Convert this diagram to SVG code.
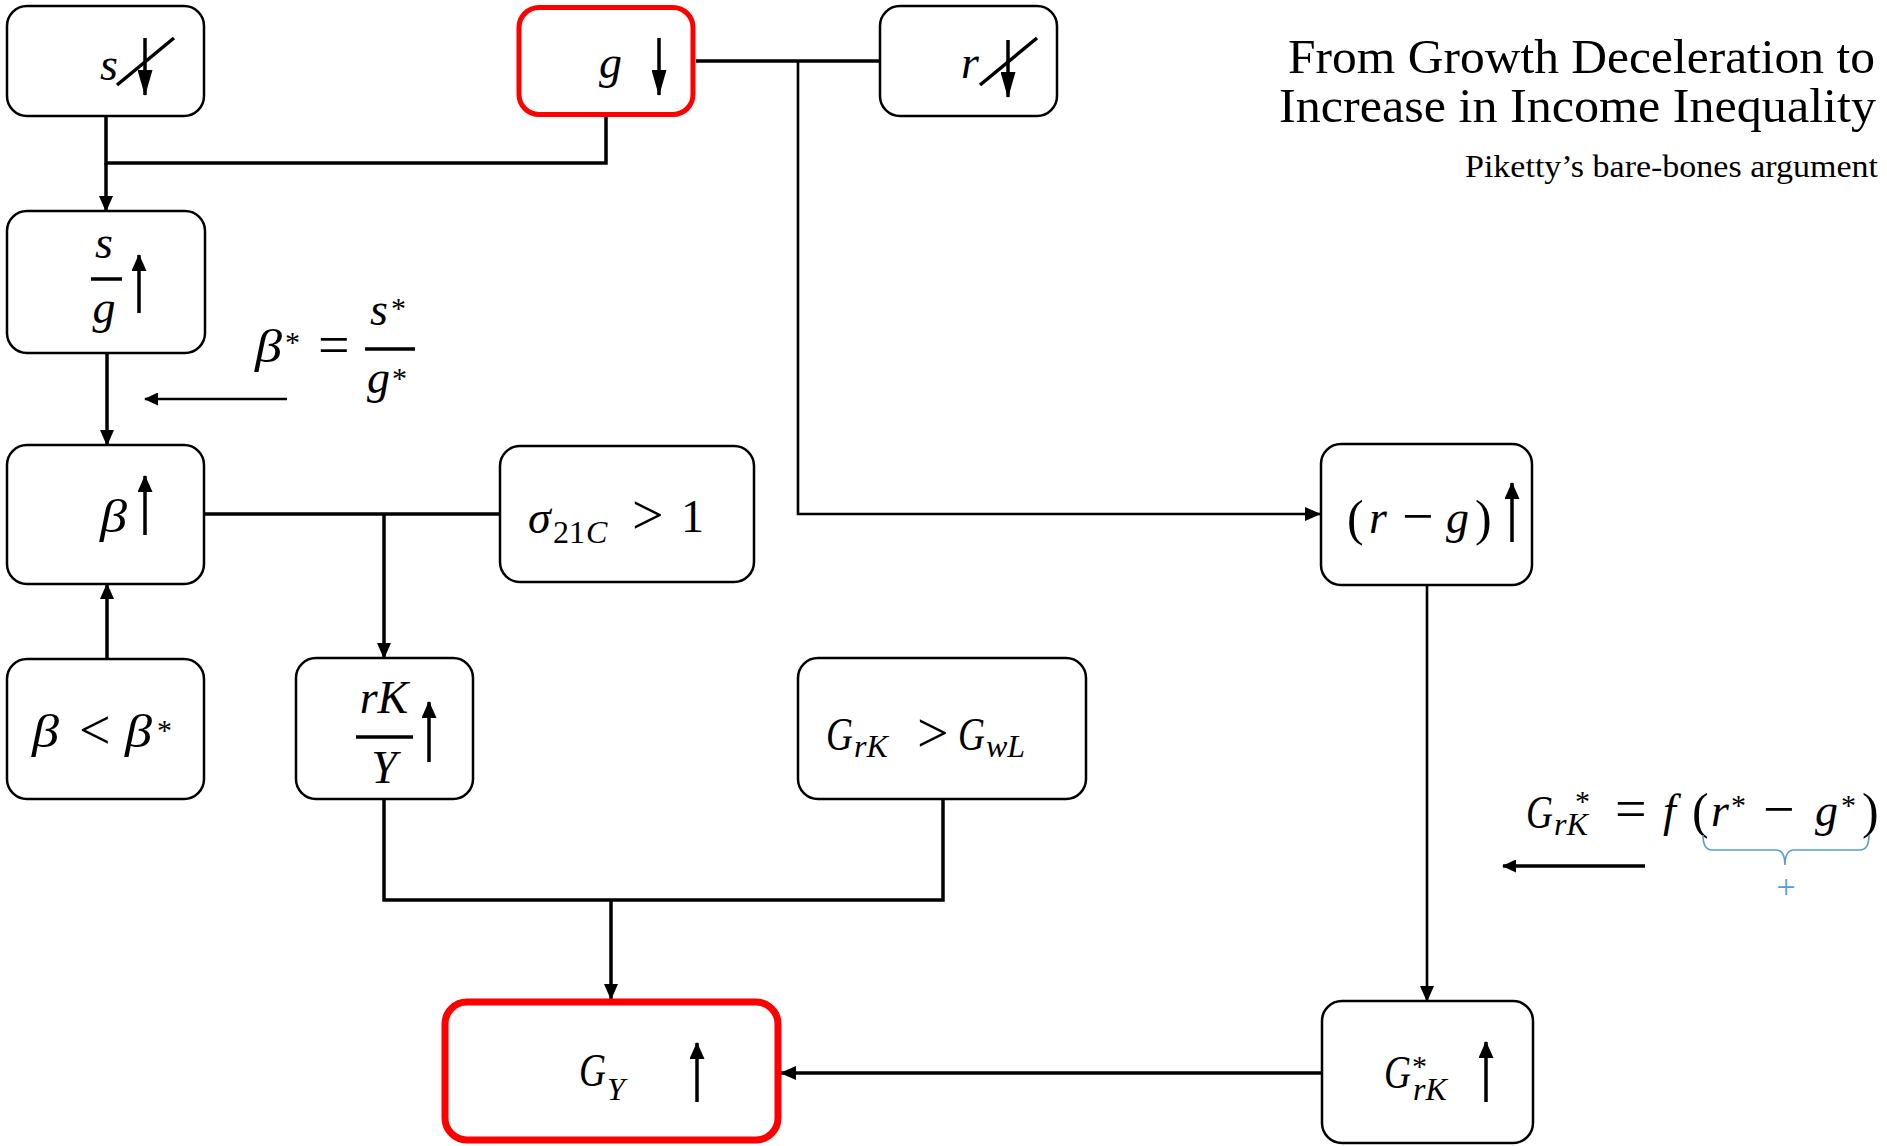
<svg xmlns="http://www.w3.org/2000/svg" width="1887" height="1146" viewBox="0 0 1887 1146">
<style>
.box{fill:#fff;stroke:#000;stroke-width:2.5}
.red{fill:#fff;stroke:#ff0000}
.m{font-family:"Liberation Serif",serif;font-style:italic;font-size:46px;fill:#000}
.u{font-style:normal}
.rel{font-style:normal;font-size:56px}
.par{font-style:normal;font-size:50px}
.sub{font-size:32px}
.sup{font-size:30px;font-style:normal}
.c{stroke:#000;stroke-width:3.5;fill:none}
.thin{stroke-width:2.6}
.ia{stroke:#000;stroke-width:3.5;fill:none}
.fl{stroke:#000;stroke-width:3.5}
.t{font-family:"Liberation Serif",serif;fill:#000}
.blue{stroke:#5B9BD5;stroke-width:1.6;fill:none}
</style>
<defs>
<marker id="ah" markerUnits="userSpaceOnUse" markerWidth="16" markerHeight="14" refX="15" refY="7" orient="auto"><path d="M0,0L16,7L0,14z" fill="#000"/></marker>
<marker id="up" markerUnits="userSpaceOnUse" markerWidth="17" markerHeight="15" refX="16" refY="7.5" orient="auto"><path d="M0,0L17,7.5L0,15z" fill="#000"/></marker>
<marker id="dn" markerUnits="userSpaceOnUse" markerWidth="26" markerHeight="15" refX="25" refY="7.5" orient="auto"><path d="M0,0L26,7.5L0,15z" fill="#000"/></marker>
<marker id="sa" markerUnits="userSpaceOnUse" markerWidth="14" markerHeight="13" refX="13" refY="6.5" orient="auto"><path d="M0,0L14,6.5L0,13z" fill="#000"/></marker>
</defs>
<rect width="1887" height="1146" fill="#fff"/>

<g id="connectors">
<path class="c" d="M106,116V163H606V116"/>
<line class="c" x1="106" y1="163" x2="106" y2="211" marker-end="url(#ah)"/>
<line class="c" x1="696" y1="61" x2="880" y2="61"/>
<path class="c thin" d="M798,61V514H1320" marker-end="url(#ah)"/>
<line class="c" x1="107" y1="353" x2="107" y2="445" marker-end="url(#ah)"/>
<line class="c" x1="107" y1="659" x2="107" y2="584" marker-end="url(#ah)"/>
<line class="c" x1="204" y1="514" x2="500" y2="514"/>
<line class="c" x1="384" y1="514" x2="384" y2="658" marker-end="url(#ah)"/>
<path class="c" d="M384,799V900H943V799"/>
<line class="c" x1="611" y1="900" x2="611" y2="999" marker-end="url(#ah)"/>
<line class="c thin" x1="1427" y1="585" x2="1427" y2="1001" marker-end="url(#ah)"/>
<line class="c" x1="1322" y1="1073" x2="781" y2="1073" marker-end="url(#ah)"/>
<line class="c thin" x1="287" y1="399" x2="145" y2="399" marker-end="url(#sa)"/>
<line class="c" x1="1645" y1="866" x2="1503" y2="866" marker-end="url(#sa)"/>
</g>

<g id="node-s">
<rect class="box" x="7" y="6" width="197" height="110" rx="20"/>
<text class="m" x="100" y="80">s</text>
<line class="ia" x1="145" y1="38" x2="145" y2="95" marker-end="url(#dn)"/>
<line class="ia" x1="117" y1="85" x2="174" y2="38"/>
</g>

<g id="node-g">
<rect class="red" stroke-width="5" x="519" y="7.5" width="174" height="107" rx="20"/>
<text class="m" x="599" y="78">g</text>
<line class="ia" x1="659" y1="38" x2="659" y2="95" marker-end="url(#dn)"/>
</g>

<g id="node-r">
<rect class="box" x="880" y="6" width="177" height="110" rx="20"/>
<text class="m" x="961" y="78">r</text>
<line class="ia" x1="1008" y1="40" x2="1008" y2="97" marker-end="url(#dn)"/>
<line class="ia" x1="980" y1="85" x2="1037" y2="38"/>
</g>

<g id="title">
<text class="t" x="1288" y="73" font-size="49" textLength="587" lengthAdjust="spacingAndGlyphs">From Growth Deceleration to</text>
<text class="t" x="1279" y="122" font-size="49" textLength="597" lengthAdjust="spacingAndGlyphs">Increase in Income Inequality</text>
<text class="t" x="1465" y="177" font-size="31" textLength="413" lengthAdjust="spacingAndGlyphs">Piketty’s bare-bones argument</text>
</g>

<g id="node-s-over-g">
<rect class="box" x="7" y="211" width="198" height="142" rx="20"/>
<text class="m" x="104" y="258" text-anchor="middle">s</text>
<line class="fl" x1="91" y1="279" x2="122" y2="279"/>
<text class="m" x="104" y="323" text-anchor="middle">g</text>
<line class="ia" x1="139" y1="313" x2="139" y2="255" marker-end="url(#up)"/>
</g>

<g id="label-beta-star">
<text class="m" x="255" y="362" textLength="27" lengthAdjust="spacingAndGlyphs">β</text>
<text class="m sup" x="285" y="352">*</text>
<text class="m rel" x="318" y="364">=</text>
<line class="fl" x1="365" y1="349" x2="415" y2="349"/>
<text class="m" x="370" y="325">s</text>
<text class="m sup" x="391" y="318">*</text>
<text class="m" x="367" y="393">g</text>
<text class="m sup" x="392" y="388">*</text>
</g>

<g id="node-beta">
<rect class="box" x="7" y="445" width="197" height="139" rx="20"/>
<text class="m" x="100" y="532" textLength="27" lengthAdjust="spacingAndGlyphs">β</text>
<line class="ia" x1="145" y1="535" x2="145" y2="476" marker-end="url(#up)"/>
</g>

<g id="node-sigma">
<rect class="box" x="500" y="446" width="254" height="136" rx="20"/>
<text class="m" x="528" y="533">σ</text>
<text class="m u sub" x="553" y="543">21</text>
<text class="m sub" x="586" y="543">C</text>
<text class="m rel" x="632" y="534">&gt;</text>
<text class="m u" x="681" y="532">1</text>
</g>

<g id="node-beta-lt">
<rect class="box" x="7" y="659" width="197" height="140" rx="20"/>
<text class="m" x="32" y="747" textLength="27" lengthAdjust="spacingAndGlyphs">β</text>
<text class="m rel" x="79" y="749">&lt;</text>
<text class="m" x="125" y="747" textLength="27" lengthAdjust="spacingAndGlyphs">β</text>
<text class="m sup" x="157" y="740">*</text>
</g>

<g id="node-rK-over-Y">
<rect class="box" x="296" y="658" width="177" height="141" rx="20"/>
<text class="m" x="384" y="713" text-anchor="middle">rK</text>
<line class="fl" x1="356" y1="737" x2="413" y2="737"/>
<text class="m" x="384" y="783" text-anchor="middle">Y</text>
<line class="ia" x1="429" y1="762" x2="429" y2="702" marker-end="url(#up)"/>
</g>

<g id="node-GrK-gt-GwL">
<rect class="box" x="798" y="658" width="288" height="141" rx="20"/>
<text class="m" x="826" y="750" textLength="27" lengthAdjust="spacingAndGlyphs">G</text>
<text class="m sub" x="854" y="757">rK</text>
<text class="m rel" x="917" y="752">&gt;</text>
<text class="m" x="958" y="750" textLength="27" lengthAdjust="spacingAndGlyphs">G</text>
<text class="m sub" x="986" y="757">wL</text>
</g>

<g id="node-r-minus-g">
<rect class="box" x="1321" y="444" width="211" height="141" rx="20"/>
<text class="m par" x="1347" y="535">(</text>
<text class="m" x="1369" y="533">r</text>
<text class="m rel" x="1402" y="535">−</text>
<text class="m" x="1446" y="533">g</text>
<text class="m par" x="1475" y="535">)</text>
<line class="ia" x1="1512" y1="542" x2="1512" y2="483" marker-end="url(#up)"/>
</g>

<g id="label-GrK-star">
<text class="m" x="1526" y="828" textLength="27" lengthAdjust="spacingAndGlyphs">G</text>
<text class="m sup" x="1575" y="811">*</text>
<text class="m sub" x="1554" y="835">rK</text>
<text class="m rel" x="1615" y="828">=</text>
<text class="m" x="1663" y="826">f</text>
<text class="m par" x="1692" y="828">(</text>
<text class="m" x="1711" y="826">r</text>
<text class="m sup" x="1731" y="815">*</text>
<text class="m rel" x="1763" y="828">−</text>
<text class="m" x="1815" y="826">g</text>
<text class="m sup" x="1841" y="815">*</text>
<text class="m par" x="1862" y="828">)</text>
<path class="blue" d="M1703,835Q1703,850 1712,850L1776,850Q1785,850 1785,865Q1785,850 1794,850L1860,850Q1869,850 1869,835"/>
<text class="t" x="1786" y="898" font-size="34" text-anchor="middle" style="fill:#5B9BD5">+</text>
</g>

<g id="node-GY">
<rect class="red" stroke-width="7" x="445" y="1002" width="333" height="138" rx="22"/>
<text class="m" x="579" y="1086" textLength="27" lengthAdjust="spacingAndGlyphs">G</text>
<text class="m sub" x="607" y="1100">Y</text>
<line class="ia" x1="697" y1="1102" x2="697" y2="1043" marker-end="url(#up)"/>
</g>

<g id="node-GrK-star">
<rect class="box" x="1322" y="1001" width="211" height="142" rx="20"/>
<text class="m" x="1384" y="1088" textLength="27" lengthAdjust="spacingAndGlyphs">G</text>
<text class="m sup" x="1412" y="1076">*</text>
<text class="m sub" x="1413" y="1100">rK</text>
<line class="ia" x1="1486" y1="1102" x2="1486" y2="1042" marker-end="url(#up)"/>
</g>
</svg>
